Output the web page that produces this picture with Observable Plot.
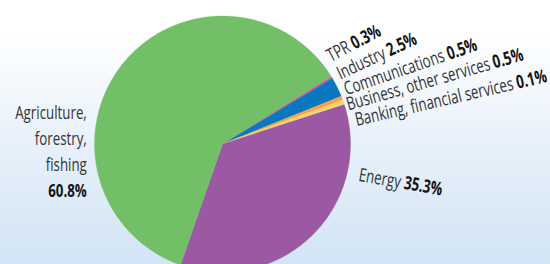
<!DOCTYPE html>
<html>
<head>
<meta charset="utf-8">
<script src="https://cdn.jsdelivr.net/npm/d3@7"></script>
<script src="https://cdn.jsdelivr.net/npm/@observablehq/plot@0.6"></script>
<style>
  html, body { margin: 0; padding: 0; }
  body {
    width: 550px; height: 264px; overflow: hidden;
    background: linear-gradient(to bottom, #ffffff 0%, #ffffff 12%, #eaf2fa 50%, #d2e4f5 100%);
  }
</style>
</head>
<body>
<div id="chart"></div>
<script>
// ---- data ----
const sectors = ["TPR", "Industry", "Communications", "Business, other services", "Banking, financial services", "Energy", "Agriculture, forestry, fishing"];
const shares = [0.3, 2.5, 0.5, 0.5, 0.1, 35.3, 60.8];
const shareLabels = ["0.3%", "2.5%", "0.5%", "0.5%", "0.1%", "35.3%", "60.8%"];
const nameLabels = ["TPR", "Industry", "Communications", "Business, other services", "Banking, financial services", "Energy", "Agriculture,\nforestry,\nfishing"];
const colors = ["#e25a92", "#0a78c1", "#f7a14d", "#fdd25f", "#fde49a", "#9a59a2", "#72bf67"];

// ---- layout ----
const W = 550, H = 264;
const cx = 222, cy = 143.5, R = 128;
const startDeg = 58;
const condense = 0.72;
// label anchors in pie-radius units relative to the centre, with rotation
const labelLayout = [
  {ux: 1.01, uy: 0.725, rot: -28},
  {ux: 1.285, uy: 0.672, rot: -25},
  {ux: 1.745, uy: 0.648, rot: -19},
  {ux: 2.10, uy: 0.582, rot: -16},
  {ux: 2.28, uy: 0.425, rot: -13},
  {ux: 1.385, uy: -0.345, rot: 10},
  {ux: -1.06, uy: -0.21, rot: 0}
];

const rows = sectors.map((s, i) => ({name: s, share: shares[i]}));
const arcs = d3.pie().value(d => d.share).sort(null)
  .startAngle(startDeg * Math.PI / 180)
  .endAngle(startDeg * Math.PI / 180 + 2 * Math.PI)(rows);

const pts = [];
for (const a of arcs) {
  const n = Math.max(2, Math.ceil((a.endAngle - a.startAngle) / 0.004));
  pts.push({name: a.data.name, x: 0, y: 0});
  for (let k = 0; k <= n; k++) {
    const t = a.startAngle + (a.endAngle - a.startAngle) * k / n;
    pts.push({name: a.data.name, x: Math.sin(t), y: Math.cos(t)});
  }
  pts.push({name: a.data.name, x: 0, y: 0});
}

const labels = sectors.map((s, i) => ({
  name: nameLabels[i], value: "\u00a0" + shareLabels[i], share: shareLabels[i],
  x: labelLayout[i].ux, y: labelLayout[i].uy, rot: labelLayout[i].rot
}));
const rotLabels = labels.slice(0, 6);
const agri = [labels[6]];

const font = "'Open Sans', sans-serif";
const fs = 18.5;

const chart = Plot.plot({
  width: W, height: H,
  margin: 0,
  style: {background: "transparent", fontFamily: font},
  x: {domain: [(0 - cx) / R, (W - cx) / R], range: [0, W], axis: null},
  y: {domain: [(cy - H) / R, cy / R], range: [H, 0], axis: null},
  color: {domain: sectors, range: colors},
  marks: [
    Plot.line(pts, {x: "x", y: "y", z: "name", fill: "name", stroke: "name", strokeWidth: 0.3, curve: "linear"}),
    Plot.text(rotLabels, {x: "x", y: "y", text: "name", rotate: "rot", textAnchor: "end", lineAnchor: "bottom", fontSize: fs, fill: "#353535"}),
    Plot.text(rotLabels, {x: "x", y: "y", text: "value", rotate: "rot", textAnchor: "start", lineAnchor: "bottom", fontSize: fs, fontWeight: "bold", fill: "#151515"}),
    Plot.text(agri, {x: "x", y: "y", text: "name", rotate: "rot", textAnchor: "end", lineAnchor: "bottom", lineHeight: 1.4, fontSize: fs, fill: "#353535"}),
    Plot.text(agri, {x: "x", y: "y", text: "share", rotate: "rot", dy: 26.5, textAnchor: "end", lineAnchor: "bottom", fontSize: fs, fontWeight: "bold", fill: "#151515"})
  ]
});
// condense the glyphs along their baseline (a narrow face is not installed)
chart.querySelectorAll("text").forEach(t => {
  const tr = t.getAttribute("transform");
  if (tr && tr.includes("rotate")) t.setAttribute("transform", tr + ` scale(${condense},1)`);
});
document.getElementById("chart").appendChild(chart);
</script>
</body>
</html>
